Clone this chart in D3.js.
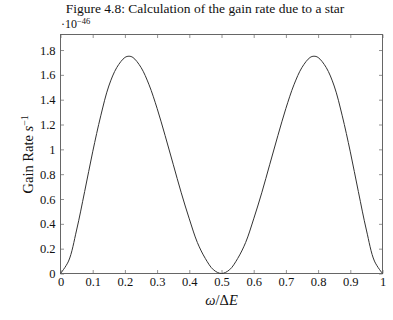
<!DOCTYPE html>
<html>
<head>
<meta charset="utf-8">
<script src="https://cdn.jsdelivr.net/npm/d3@7"></script>
<style>
  body { margin: 0; background: #fff; }
  svg text { font-family: "Liberation Serif", "DejaVu Serif", serif; fill: #111; }
</style>
</head>
<body>
<svg id="chart"></svg>
<script>
// omega / deltaE positions and gain rate values (x 1e-46)
const omegaValues = [0, 0.025, 0.05, 0.075, 0.1, 0.125, 0.15, 0.175, 0.2, 0.2125, 0.225, 0.25, 0.275, 0.3, 0.325, 0.35, 0.375, 0.4, 0.425, 0.45, 0.475, 0.5,
                     0.525, 0.55, 0.575, 0.6, 0.625, 0.65, 0.675, 0.7, 0.725, 0.75, 0.775, 0.7875, 0.8, 0.825, 0.85, 0.875, 0.9, 0.925, 0.95, 0.975, 1];
const gainValues = [0, 0.10, 0.35, 0.66, 0.98, 1.27, 1.51, 1.66, 1.74, 1.75, 1.74, 1.66, 1.52, 1.33, 1.11, 0.88, 0.65, 0.44, 0.25, 0.12, 0.03, 0,
                    0.03, 0.12, 0.25, 0.44, 0.65, 0.88, 1.11, 1.33, 1.52, 1.66, 1.74, 1.75, 1.74, 1.66, 1.51, 1.27, 0.98, 0.66, 0.35, 0.10, 0];
const xTicks = [0, 0.1, 0.2, 0.3, 0.4, 0.5, 0.6, 0.7, 0.8, 0.9, 1];
const yTicks = [0, 0.2, 0.4, 0.6, 0.8, 1, 1.2, 1.4, 1.6, 1.8];

const width = 393;
const height = 320;
const margin = {top: 34.5, right: 10.5, bottom: 46.5, left: 60.5};

const data = omegaValues.map((x, i) => ({x: x, y: gainValues[i]}));

const svg = d3.select("#chart")
              .attr("width", width)
              .attr("height", height);

const xScale = d3.scaleLinear()
                 .domain([0, 1])
                 .range([margin.left, width - margin.right]);

const yScale = d3.scaleLinear()
                 .domain([0, 1.925])
                 .range([height - margin.bottom, margin.top]);

// ticks on all four sides, pointing inward
const tickLen = 3.5;
const xAxis = d3.axisBottom(xScale).tickValues(xTicks).tickFormat(d => String(d)).tickSizeInner(-tickLen).tickSizeOuter(0).tickPadding(4);
const yAxis = d3.axisLeft(yScale).tickValues(yTicks).tickFormat(d => String(d)).tickSizeInner(-tickLen).tickSizeOuter(0).tickPadding(5);
const xAxisTop = d3.axisTop(xScale).tickValues(xTicks).tickFormat("").tickSizeInner(-tickLen).tickSizeOuter(0);
const yAxisRight = d3.axisRight(yScale).tickValues(yTicks).tickFormat("").tickSizeInner(-tickLen).tickSizeOuter(0);

svg.append("g")
   .attr("transform", `translate(0, ${height - margin.bottom})`)
   .call(xAxis);
svg.append("g")
   .attr("transform", `translate(${margin.left}, 0)`)
   .call(yAxis);
svg.append("g")
   .attr("transform", `translate(0, ${margin.top})`)
   .call(xAxisTop);
svg.append("g")
   .attr("transform", `translate(${width - margin.right}, 0)`)
   .call(yAxisRight);

svg.selectAll(".domain").remove();
svg.selectAll(".tick line").attr("stroke", "#777").attr("stroke-width", 0.8);
svg.selectAll(".tick text").style("font-size", "12.5px").attr("fill", "#111");

// frame
svg.append("rect")
   .attr("x", margin.left)
   .attr("y", margin.top)
   .attr("width", width - margin.left - margin.right)
   .attr("height", height - margin.top - margin.bottom)
   .attr("fill", "none")
   .attr("stroke", "#666")
   .attr("stroke-width", 1);

const line = d3.line()
               .x(d => xScale(d.x))
               .y(d => yScale(d.y))
               .curve(d3.curveCatmullRom.alpha(0.5));

svg.append("path")
   .datum(data)
   .attr("d", line)
   .attr("fill", "none")
   .attr("stroke", "#333")
   .attr("stroke-width", 1);

// title
svg.append("text")
   .attr("x", 205)
   .attr("y", 13)
   .attr("text-anchor", "middle")
   .style("font-size", "13.5px")
   .text("Figure 4.8: Calculation of the gain rate due to a star");

// scale factor
const sf = svg.append("text")
   .attr("x", 61)
   .attr("y", 28)
   .style("font-size", "12px");
sf.append("tspan").text("·10");
sf.append("tspan").attr("dy", -4).style("font-size", "8.5px").text("−46");

// x label
const xl = svg.append("text")
   .attr("x", xScale(0.5))
   .attr("y", 305)
   .attr("text-anchor", "middle")
   .style("font-size", "14.5px");
xl.append("tspan").style("font-style", "italic").text("ω");
xl.append("tspan").text("/Δ");
xl.append("tspan").style("font-style", "italic").text("E");

// y label
const yl = svg.append("text")
   .attr("transform", `translate(33, ${yScale(0.96)}) rotate(-90)`)
   .attr("text-anchor", "middle")
   .style("font-size", "14.5px");
yl.append("tspan").text("Gain Rate ");
yl.append("tspan").style("font-style", "italic").text("s");
yl.append("tspan").attr("dy", -5).style("font-size", "10px").text("−1");
</script>
</body>
</html>
